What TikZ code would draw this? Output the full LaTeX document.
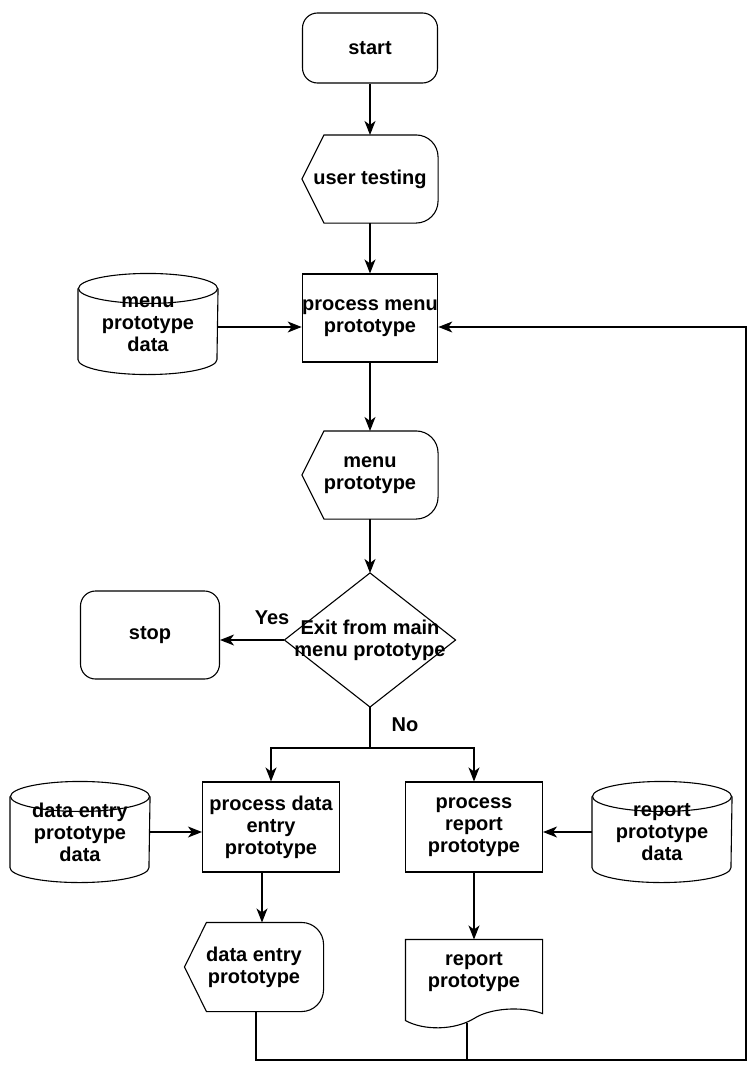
\documentclass[tikz,border=0pt]{standalone}
\usepackage{fontspec}
\setmainfont{Liberation Sans}
\usetikzlibrary{arrows.meta}

\begin{document}
\begin{tikzpicture}[
            x=1pt, y=-1pt,
            line width=1.1pt,
            >={Stealth[length=14pt, width=11pt, inset=4pt]},
            font=\fontsize{20}{22}\selectfont\bfseries,
            terminal/.style={
                rectangle,
                draw,
                rounded corners=15pt,
                minimum width=135pt,
                minimum height=70pt,
                inner sep=0pt
            },
            procbox/.style={
                rectangle,
                draw,
                minimum width=135pt,
                minimum height=88pt,
                align=center,
                inner sep=0pt
            },
            dispbox/.style={
                minimum width=135pt,
                minimum height=87pt,
                align=center,
                inner sep=0pt
            },
            storebox/.style={
                minimum width=139pt,
                minimum height=100pt,
                align=center,
                inner sep=0pt
            },
            docbox/.style={
                minimum width=136pt,
                minimum height=80pt,
                align=center,
                inner sep=0pt
            }
        ]

            \useasboundingbox (0,0) rectangle (749,1065);

            \node[terminal] (start) at (370, 48) {start};
            \node[dispbox] (test) at (370, 179) {user testing};
            \node[procbox] (pmenu) at (370, 318) {process menu\\prototype};
            \node[storebox] (mdata) at (148, 324) {menu\\prototype\\data};
            \node[dispbox] (mproto) at (370, 475) {menu\\prototype};
            \node[dispbox, minimum width=170pt, minimum height=133pt] (exit) at (370, 640)
                {Exit from main\\menu prototype};
            \node[terminal, minimum width=139pt, minimum height=88pt] (stop) at (150, 635) {stop};

            \node[procbox, minimum width=137pt, minimum height=90pt] (pdata) at (271, 827)
                {process data\\entry\\prototype};
            \node[procbox, minimum width=137pt, minimum height=90pt] (prep) at (474, 827)
                {process\\report\\prototype};
            \node[storebox] (ddata) at (80, 832) {data entry\\prototype\\data};
            \node[storebox] (rdata) at (662, 832) {report\\prototype\\data};
            \node[dispbox, minimum width=138pt, minimum height=88pt] (dproto) at (254, 967)
                {data entry\\prototype};
            \node[docbox] (rdoc) at (474, 980) {report\\prototype\\[-2pt]};

            \node (yes) at (272, 618) {Yes};
            \node (no) at (405, 725) {No};

            % outlines
            \foreach \n in {test, mproto, dproto} {
                \draw (\n.west) -- ([xshift=22pt]\n.north west)
                    -- ([xshift=-22pt]\n.north east)
                    arc[start angle=90, end angle=0, radius=22pt]
                    -- ([shift={(0,-22)}]\n.south east)
                    arc[start angle=0, end angle=-90, radius=22pt]
                    -- ([xshift=22pt]\n.south west) -- cycle;
            }
            \foreach \n in {mdata, ddata, rdata} {
                \draw ([shift={(0,15)}]\n.north) ellipse [x radius=69.5pt, y radius=15pt];
                \draw ([shift={(0,15)}]\n.north west) -- ([shift={(0,-15)}]\n.south west)
                    arc[start angle=180, end angle=360, x radius=69.5pt, y radius=15pt]
                    -- ([shift={(0,15)}]\n.north east);
            }
            \draw (exit.north) -- (exit.east) -- (exit.south) -- (exit.west) -- cycle;
            \draw (rdoc.north west) -- (rdoc.south west)
                .. controls +(18,10) and +(-20,12) .. ([shift={(0,-2)}]rdoc.south)
                .. controls +(15,-10) and +(-22,-8) .. ([shift={(0,-7)}]rdoc.south east)
                -- (rdoc.north east) -- cycle;

            \coordinate (pin) at ([shift={(0,9)}]pmenu.west);
            \coordinate (pback) at ([shift={(0,9)}]pmenu.east);
            \coordinate (split) at (370, 748);
            \coordinate (loop) at (746, 1060);
            \coordinate (rfoot) at ([shift={(-7,2)}]rdoc.south);

            \draw[->] (start) -- (test);
            \draw[->] (test) -- (pmenu);
            \draw[->] (mdata.east |- pin) -- (pin);
            \draw[->] (pmenu) -- (mproto);
            \draw[->] (mproto) -- (exit.north);
            \draw[->] (exit.west) -- (exit.west -| stop.east);

            \draw (exit.south) -- (split);
            \draw[->] (split) -| (pdata.north);
            \draw[->] (split) -| (prep.north);

            \draw[->] (ddata.east) -- (ddata.east -| pdata.west);
            \draw[->] (rdata.west) -- (rdata.west -| prep.east);

            \draw[->] ([xshift=-9pt]pdata.south) -- ([xshift=8pt]dproto.north);
            \draw[->] (prep.south) -- (rdoc.north);

            \draw[->] ([xshift=2pt]dproto.south) |- (loop) |- (pback);
            \draw (rfoot) -- (rfoot |- loop);

        \end{tikzpicture}
\end{document}
